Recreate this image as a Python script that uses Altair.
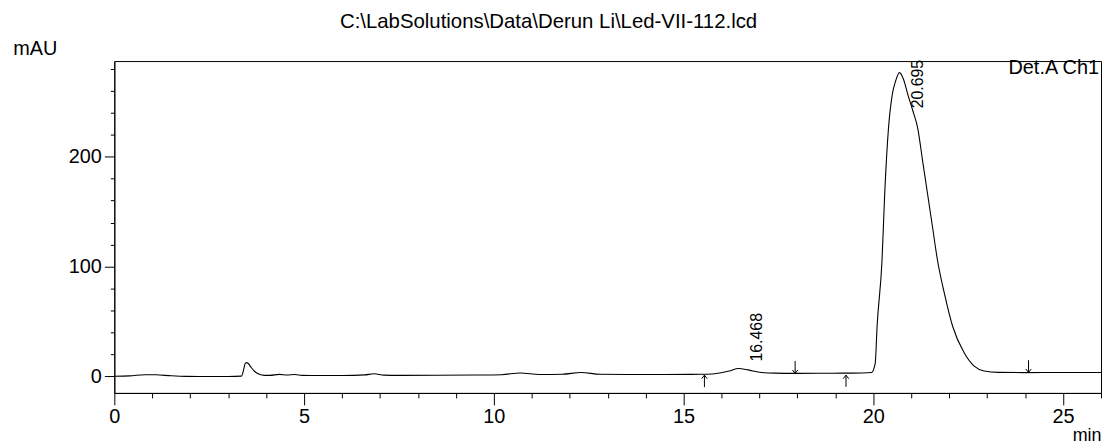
import altair as alt
import pandas as pd

# ---- data ----
file_title = "C:\\LabSolutions\\Data\\Derun Li\\Led-VII-112.lcd"
detector = "Det.A Ch1"

times = [0.0, 0.4, 0.8, 1.1, 1.5, 1.9, 2.5, 3.0, 3.35, 3.40, 3.44, 3.48, 3.53, 3.60,
         3.70, 3.82, 3.95, 4.1, 4.35, 4.55, 4.75, 4.95, 5.3, 5.8, 6.3, 6.6, 6.85, 7.1,
         7.5, 8.5, 9.5, 10.2, 10.7, 11.2, 11.8, 12.3, 12.8, 13.5, 14.5, 15.2, 15.6,
         15.95, 16.2, 16.45, 16.7, 17.0, 17.4, 18.0, 18.6, 19.2, 19.7, 19.95, 20.05,
         20.10, 20.23, 20.30, 20.40, 20.50, 20.58, 20.69, 20.80, 20.91, 21.04, 21.17,
         21.30, 21.43, 21.56, 21.69, 21.87, 22.09, 22.39, 22.65, 22.92, 23.3, 24.0,
         25.0, 26.0]
signal = [0.2, 0.5, 1.6, 1.5, 0.6, 0.1, 0.0, 0.0, 0.3, 5.0, 11.0, 12.6, 11.8, 8.5,
          4.5, 2.0, 1.0, 1.0, 1.9, 1.3, 1.8, 1.0, 0.9, 0.9, 1.0, 1.4, 2.5, 1.2,
          1.0, 1.1, 1.3, 1.6, 3.2, 1.8, 2.0, 3.6, 2.0, 1.8, 1.8, 1.9, 2.0,
          3.2, 5.0, 7.2, 6.0, 3.9, 3.0, 2.8, 2.9, 3.0, 3.2, 3.6, 12.0,
          45.7, 106.0, 166.0, 226.0, 256.5, 268.0, 276.5, 270.0, 256.5, 242.0, 226.0,
          196.0, 166.0, 136.0, 106.0, 76.0, 45.7, 21.7, 9.6, 5.0, 3.7, 3.5,
          3.6, 3.6]

peak_times = [16.468, 20.695]
peak_heights = [7.2, 276.5]
peak_labels = ["16.468", "20.695"]

# integration start (up) / end (down) markers
marker_times = [15.55, 17.94, 19.28, 24.09]
marker_dirs = ["up", "down", "up", "down"]
marker_tips = [1.2, 2.7, 1.2, 3.6]
marker_tails = [-9.7, 14.1, -9.4, 14.7]

x_major = [0, 5, 10, 15, 20, 25]
x_minor = [v for v in range(1, 27) if v % 5 != 0]
y_major = [0, 100, 200]
y_minor = [v for v in range(20, 287, 20) if v % 100 != 0]

FONT = "Liberation Sans"

trace = pd.DataFrame({"t": times, "mAU": signal})
peaks = pd.DataFrame({"t": peak_times, "mAU": peak_heights, "label": peak_labels})
markers = pd.DataFrame({"t": marker_times, "dir": marker_dirs,
                        "tip": marker_tips, "tail": marker_tails})

xscale = alt.Scale(domain=[0, 26], nice=False, zero=False)
yscale = alt.Scale(domain=[-15, 287], nice=False, zero=False)

x_axis = alt.Axis(values=x_major, tickSize=12, labelFontSize=20, labelFont=FONT,
                  labelColor="black", tickColor="black", domainColor="black",
                  grid=False, format="d", labelFlush=False, labelPadding=2,
                  title="min", titleFont=FONT, titleFontSize=18, titleFontWeight="normal",
                  titleColor="black", titleX=993, titleY=43, titleAlign="right",
                  titleBaseline="middle", orient="bottom")
y_axis = alt.Axis(values=y_major, tickSize=10, labelFontSize=20, labelFont=FONT,
                  labelColor="black", tickColor="black", domainColor="black",
                  grid=False, format="d", labelFlush=False, labelPadding=3,
                  title="mAU", titleFont=FONT, titleFontSize=20, titleFontWeight="normal",
                  titleColor="black", titleAngle=0, titleX=-80, titleY=-13,
                  titleAlign="center", titleBaseline="middle", orient="left")
x_minor_axis = alt.Axis(values=x_minor, tickSize=5, labels=False, domain=False,
                        grid=False, tickColor="black", title=None, orient="bottom")
y_minor_axis = alt.Axis(values=y_minor, tickSize=4, labels=False, domain=False,
                        grid=False, tickColor="black", title=None, orient="left")

line = alt.Chart(trace).mark_line(color="black", strokeWidth=1.1,
                                  interpolate="monotone").encode(
    x=alt.X("t:Q", scale=xscale, axis=x_axis),
    y=alt.Y("mAU:Q", scale=yscale, axis=y_axis),
)

shafts = alt.Chart(markers).mark_rule(color="black", strokeWidth=1).encode(
    x=alt.X("t:Q", scale=xscale, axis=x_minor_axis),
    y=alt.Y("tip:Q", scale=yscale, axis=y_minor_axis),
    y2="tail:Q",
)

heads_up = alt.Chart(markers).transform_filter(alt.datum.dir == "up").mark_point(
    shape="M -1 1.3 L 0 0 L 1 1.3", size=30, filled=False, color="black",
    strokeWidth=1, opacity=1).encode(
    x=alt.X("t:Q", scale=xscale, axis=None),
    y=alt.Y("tip:Q", scale=yscale, axis=None),
)
heads_down = alt.Chart(markers).transform_filter(alt.datum.dir == "down").mark_point(
    shape="M -1 -1.3 L 0 0 L 1 -1.3", size=30, filled=False, color="black",
    strokeWidth=1, opacity=1).encode(
    x=alt.X("t:Q", scale=xscale, axis=None),
    y=alt.Y("tip:Q", scale=yscale, axis=None),
)

label_small = alt.Chart(peaks).transform_filter(alt.datum.label == "16.468").mark_text(
    angle=270, align="left", baseline="middle", dx=7, dy=18, fontSize=16,
    font=FONT, color="black").encode(
    x=alt.X("t:Q", scale=xscale, axis=None),
    y=alt.Y("mAU:Q", scale=yscale, axis=None),
    text="label:N",
)
label_main = alt.Chart(peaks).transform_filter(alt.datum.label == "20.695").mark_text(
    angle=270, align="left", baseline="middle", dx=-36, dy=18, fontSize=16,
    font=FONT, color="black").encode(
    x=alt.X("t:Q", scale=xscale, axis=None),
    y=alt.Y("mAU:Q", scale=yscale, axis=None),
    text="label:N",
)

title_txt = alt.Chart(pd.DataFrame({"s": [file_title]})).mark_text(
    align="center", baseline="middle", fontSize=20.5, font=FONT, color="black").encode(
    x=alt.value(437), y=alt.value(-39), text="s:N")
det_txt = alt.Chart(pd.DataFrame({"s": [detector]})).mark_text(
    align="right", baseline="middle", fontSize=20, font=FONT, color="black").encode(
    x=alt.value(991), y=alt.value(7), text="s:N")

chart = alt.layer(
    line, shafts, heads_up, heads_down, label_small, label_main, title_txt, det_txt
).resolve_axis(x="independent", y="independent").properties(
    width=993, height=334,
    autosize=alt.AutoSizeParams(type="none"),
    padding={"left": 107, "top": 52, "right": 1, "bottom": 52},
    background="white",
).configure_view(stroke="black", strokeWidth=1)

chart.save("out.html", embed_options={"renderer": "svg", "actions": False})
